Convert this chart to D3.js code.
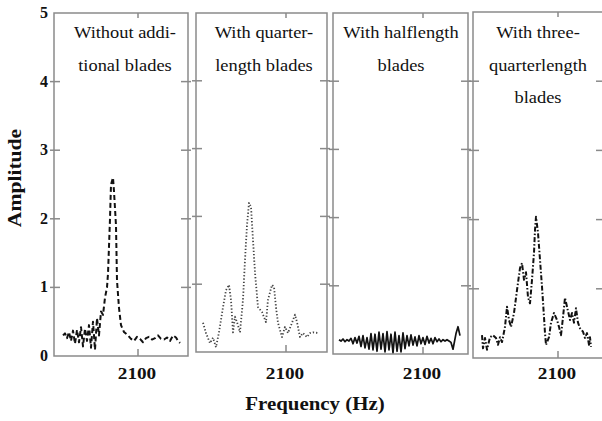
<!DOCTYPE html>
<html>
<head>
<meta charset="utf-8">
<script src="https://cdn.jsdelivr.net/npm/d3@7"></script>
<style>
  html, body { margin: 0; padding: 0; background: #fff; }
  svg { display: block; }
</style>
</head>
<body>
<svg width="602" height="421"></svg>
<script>
// data: [frequency (Hz), amplitude]
const noBlades = [
  [2025,0.30],[2027,0.33],[2029,0.26],[2031,0.35],[2033,0.22],[2035,0.37],[2037,0.18],
  [2039,0.38],[2041,0.20],[2043,0.42],[2045,0.14],[2047,0.40],[2049,0.22],[2051,0.45],
  [2053,0.12],[2055,0.50],[2057,0.09],[2059,0.55],[2061,0.30],[2063,0.65],[2065,0.60],
  [2067,0.85],[2069,1.00],[2070,1.20],[2072,2.00],[2073,2.50],[2075,2.60],[2076,2.40],
  [2078,1.90],[2079,1.10],[2081,0.70],[2083,0.45],[2086,0.35],[2090,0.30],[2093,0.25],
  [2096,0.22],[2099,0.28],[2102,0.25],[2105,0.20],[2108,0.26],[2111,0.28],[2114,0.24],
  [2117,0.26],[2120,0.30],[2123,0.25],[2126,0.24],[2129,0.27],[2132,0.22],[2135,0.30],
  [2138,0.27],[2140,0.22],[2142,0.19]
];
const quarterBlades = [
  [2017,0.43],[2020,0.28],[2024,0.13],[2027,0.21],[2030,0.07],[2033,0.29],[2037,0.66],
  [2040,0.91],[2043,0.99],[2045,0.77],[2047,0.29],[2049,0.52],[2051,0.44],[2054,0.29],
  [2057,0.77],[2059,1.36],[2061,1.87],[2063,2.20],[2065,2.14],[2067,1.65],[2069,1.17],
  [2072,0.66],[2076,0.59],[2080,0.44],[2082,0.77],[2086,0.99],[2088,0.96],[2090,0.66],
  [2092,0.43],[2096,0.22],[2099,0.37],[2102,0.28],[2106,0.43],[2109,0.55],[2111,0.44],
  [2114,0.22],[2117,0.28],[2121,0.22],[2124,0.28],[2127,0.29],[2132,0.28]
];
const halfBlades = [
  [2016,0.21],[2018,0.19],[2020,0.22],[2022,0.18],[2024,0.21],[2026,0.19],[2028,0.23],
  [2030,0.15],[2032,0.24],[2034,0.16],[2036,0.26],[2038,0.11],[2040,0.27],[2042,0.09],
  [2044,0.24],[2046,0.07],[2048,0.30],[2050,0.06],[2052,0.29],[2054,0.04],[2056,0.32],
  [2058,0.07],[2060,0.30],[2062,0.03],[2064,0.33],[2066,0.06],[2068,0.29],[2070,0.02],
  [2072,0.32],[2074,0.04],[2076,0.27],[2078,0.03],[2080,0.31],[2082,0.08],[2084,0.27],
  [2086,0.12],[2088,0.28],[2090,0.13],[2092,0.25],[2094,0.12],[2096,0.27],[2098,0.15],
  [2100,0.24],[2102,0.14],[2104,0.26],[2106,0.16],[2108,0.23],[2110,0.15],[2112,0.24],
  [2114,0.18],[2116,0.22],[2118,0.18],[2120,0.21],[2122,0.19],[2124,0.21],[2126,0.19],
  [2128,0.17],[2130,0.07],[2133,0.30],[2135,0.40],[2137,0.27]
];
const threeQuarterBlades = [
  [2024,0.33],[2025,0.14],[2027,0.29],[2029,0.12],[2032,0.30],[2035,0.33],[2038,0.29],
  [2040,0.19],[2042,0.30],[2044,0.23],[2047,0.45],[2049,0.74],[2051,0.55],[2053,0.45],
  [2056,0.65],[2059,0.98],[2062,1.30],[2064,1.37],[2066,1.13],[2068,1.24],[2070,0.88],
  [2072,0.79],[2074,1.13],[2076,1.52],[2077,1.85],[2078,2.04],[2080,1.81],[2082,1.42],
  [2084,1.03],[2086,0.59],[2087,0.36],[2088,0.19],[2091,0.30],[2093,0.51],[2096,0.65],
  [2099,0.55],[2101,0.45],[2103,0.33],[2105,0.59],[2107,0.87],[2109,0.74],[2112,0.55],
  [2114,0.65],[2116,0.51],[2118,0.72],[2120,0.51],[2122,0.43],[2125,0.38],[2127,0.29],
  [2129,0.36],[2131,0.19],[2132,0.30],[2133,0.16]
];

const titles = [
  ["Without addi-", "tional blades"],
  ["With quarter-", "length blades"],
  ["With halflength", "blades"],
  ["With three-", "quarterlength", "blades"]
];
const xDomains = [[2016, 2150], [2010, 2141], [2010, 2145], [2015, 2145]];
const yTicks = [0, 1, 2, 3, 4, 5];
const xTick = 2100;

// panel boxes (layout only)
const boxes = [
  { left: 54,  right: 188, top: 13, bottom: 356, tx: 125, dash: "5,3",       width: 2,   color: "#111" },
  { left: 196, right: 327, top: 13, bottom: 352, tx: 264, dash: "1.3,2",     width: 1.8, color: "#444" },
  { left: 333, right: 468, top: 13, bottom: 354, tx: 401, dash: null,        width: 1.7, color: "#111" },
  { left: 473, right: 603, top: 12, bottom: 358, tx: 538, dash: "5,2,1.5,2", width: 2,   color: "#111" }
];
const series = [noBlades, quarterBlades, halfBlades, threeQuarterBlades];

const serif = "Liberation Serif";
const svg = d3.select("svg");
const frame = "#8a8a8a";

// the scan is a bit wider than the font, so stretch the glyphs along the line
function stretch(sel, k) {
  sel.each(function () {
    const w = this.getComputedTextLength();
    d3.select(this).attr("textLength", w * k).attr("lengthAdjust", "spacingAndGlyphs");
  });
}

boxes.forEach((b, i) => {
  const x = d3.scaleLinear().domain(xDomains[i]).range([b.left, b.right]);
  const y = d3.scaleLinear().domain([0, 5]).range([b.bottom, b.top]);
  const g = svg.append("g");

  g.append("rect")
    .attr("x", b.left).attr("y", b.top)
    .attr("width", b.right - b.left).attr("height", b.bottom - b.top)
    .attr("fill", "none").attr("stroke", frame).attr("stroke-width", 1.5);

  // side ticks
  const inner = yTicks.slice(1, -1);
  g.selectAll(".lt").data(inner).join("line")
    .attr("x1", b.left - 4).attr("x2", b.left + 6)
    .attr("y1", d => y(d)).attr("y2", d => y(d))
    .attr("stroke", frame).attr("stroke-width", 1.5);
  g.selectAll(".rt").data(inner).join("line")
    .attr("x1", b.right - 7).attr("x2", b.right + 3)
    .attr("y1", d => y(d)).attr("y2", d => y(d))
    .attr("stroke", frame).attr("stroke-width", 1.5);

  // 2100 ticks top and bottom
  g.append("line")
    .attr("x1", x(xTick)).attr("x2", x(xTick))
    .attr("y1", b.top).attr("y2", b.top + 5)
    .attr("stroke", frame).attr("stroke-width", 1.5);
  g.append("line")
    .attr("x1", x(xTick)).attr("x2", x(xTick))
    .attr("y1", b.bottom).attr("y2", b.bottom - 7)
    .attr("stroke", frame).attr("stroke-width", 1.5);

  g.append("text")
    .attr("x", x(xTick) - 1).attr("y", 379)
    .attr("text-anchor", "middle")
    .attr("font-family", serif)
    .attr("font-size", 16).attr("font-weight", "bold")
    .attr("fill", "#111")
    .text(xTick)
    .call(stretch, 1.2);

  // the curve
  const line = d3.line().x(d => x(d[0])).y(d => y(d[1]));
  g.append("path")
    .datum(series[i])
    .attr("d", line)
    .attr("fill", "none")
    .attr("stroke", b.color)
    .attr("stroke-width", b.width)
    .attr("stroke-linejoin", "round")
    .attr("stroke-dasharray", b.dash);

  // title
  titles[i].forEach((t, k) => {
    g.append("text")
      .attr("x", b.tx).attr("y", 38 + k * 32.5)
      .attr("text-anchor", "middle")
      .attr("font-family", serif)
      .attr("font-size", 16)
      .attr("fill", "#111")
      .text(t)
      .call(stretch, 1.15);
  });

  // y labels only on the first panel
  if (i === 0) {
    g.selectAll(".yl").data(yTicks).join("text")
      .attr("x", 48).attr("y", d => y(d) + 5)
      .attr("text-anchor", "end")
      .attr("font-family", serif)
      .attr("font-size", 16).attr("font-weight", "bold")
      .attr("fill", "#111")
      .text(d => d);
  }
});

svg.append("text")
  .attr("transform", "translate(21,178) rotate(-90)")
  .attr("text-anchor", "middle")
  .attr("font-family", serif)
  .attr("font-size", 18).attr("font-weight", "bold")
  .attr("fill", "#111")
  .text("Amplitude")
  .call(stretch, 1.2);

svg.append("text")
  .attr("x", 315).attr("y", 410)
  .attr("text-anchor", "middle")
  .attr("font-family", serif)
  .attr("font-size", 18).attr("font-weight", "bold")
  .attr("fill", "#111")
  .text("Frequency (Hz)")
  .call(stretch, 1.16);
</script>
</body>
</html>
